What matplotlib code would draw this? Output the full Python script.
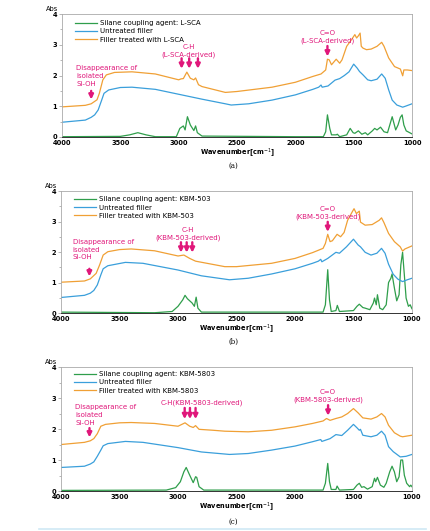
import numpy as np
import matplotlib
matplotlib.use('Agg')
import matplotlib.pyplot as plt

plt.rcParams['font.family'] = ['DejaVu Sans']

GREEN = '#2f9e4b'
BLUE = '#3a9fdb'
ORANGE = '#f0a035'
PINK = '#e0177a'

# ---- panel (a): L-SCA
a_green_wn = [4000, 3500, 3420, 3350, 3280, 3200, 3020, 2990, 2960, 2945, 2925, 2900, 2870, 2855, 2840, 2800,
              2000, 1760, 1740, 1725, 1705, 1690, 1650, 1640, 1620, 1560, 1530, 1505, 1490, 1460, 1430, 1400,
              1380, 1340, 1320, 1300, 1270, 1240, 1210, 1170, 1140, 1120, 1100, 1085, 1070, 1050, 1000]
a_green_abs = [0.01, 0.02, 0.07, 0.14, 0.07, 0.01, 0.01, 0.28, 0.36, 0.23, 0.66, 0.39, 0.21, 0.36, 0.14, 0.03,
               0.01, 0.01, 0.17, 0.72, 0.28, 0.07, 0.07, 0.09, 0.01, 0.07, 0.28, 0.14, 0.12, 0.20, 0.09, 0.14,
               0.07, 0.20, 0.28, 0.23, 0.32, 0.17, 0.14, 0.66, 0.23, 0.39, 0.64, 0.72, 0.39, 0.20, 0.10]
a_blue_wn = [4000, 3800, 3750, 3720, 3690, 3660, 3640, 3600, 3500, 3400, 3200, 3000, 2800, 2600, 2550, 2400,
             2200, 2000, 1850, 1800, 1780, 1770, 1720, 1660, 1620, 1580, 1540, 1500, 1470, 1450, 1420, 1380,
             1350, 1300, 1260, 1230, 1200, 1170, 1130, 1080, 1050, 1000]
a_blue_abs = [0.48, 0.55, 0.64, 0.72, 0.88, 1.20, 1.42, 1.53, 1.61, 1.62, 1.55, 1.39, 1.23, 1.08, 1.04, 1.08,
              1.20, 1.37, 1.55, 1.62, 1.69, 1.62, 1.66, 1.85, 1.90, 2.00, 2.12, 2.37, 2.24, 2.13, 2.02, 1.86,
              1.83, 1.88, 2.05, 1.91, 1.53, 1.20, 1.04, 0.97, 1.01, 1.08]
a_orange_wn = [4000, 3800, 3750, 3700, 3680, 3650, 3620, 3550, 3400, 3200, 3000, 2980, 2960, 2930, 2900, 2870,
               2855, 2830, 2800, 2600, 2500, 2200, 2000, 1850, 1780, 1740, 1725, 1710, 1690, 1650, 1620, 1600,
               1560, 1520, 1490, 1475, 1460, 1445, 1435, 1420, 1390, 1350, 1300, 1260, 1240, 1200, 1150, 1100,
               1080, 1070, 1040, 1000]
a_orange_abs = [0.98, 1.03, 1.08, 1.21, 1.42, 1.86, 2.02, 2.10, 2.12, 2.05, 1.86, 1.89, 1.90, 2.11, 1.91, 1.86,
                1.92, 1.70, 1.64, 1.45, 1.48, 1.62, 1.78, 1.97, 2.05, 2.18, 2.53, 2.51, 2.35, 2.53, 2.40, 2.51,
                2.95, 3.16, 3.33, 3.22, 3.29, 3.38, 2.95, 2.89, 2.84, 2.86, 2.95, 3.08, 2.95, 2.57, 2.29, 2.21,
                1.99, 2.18, 2.18, 2.16]

# ---- panel (b): KBM-503
b_green_wn = [4000, 3200, 3050, 3000, 2960, 2940, 2920, 2880, 2860, 2845, 2830, 2800, 1760, 1740, 1720, 1705,
              1690, 1650, 1638, 1620, 1500, 1470, 1450, 1420, 1400, 1360, 1330, 1320, 1305, 1295, 1275, 1250,
              1220, 1200, 1180, 1170, 1150, 1130, 1110, 1095, 1080, 1065, 1050, 1030, 1015, 1000]
b_green_abs = [0.03, 0.01, 0.05, 0.22, 0.43, 0.58, 0.47, 0.33, 0.22, 0.52, 0.16, 0.03, 0.03, 0.27, 1.42, 0.43,
               0.05, 0.08, 0.25, 0.05, 0.08, 0.22, 0.29, 0.18, 0.16, 0.11, 0.33, 0.49, 0.27, 0.60, 0.16, 0.11,
               0.27, 1.00, 1.14, 1.28, 0.82, 0.40, 0.60, 1.58, 1.99, 1.25, 0.49, 0.22, 0.27, 0.14]
b_blue_wn = [4000, 3800, 3750, 3720, 3690, 3660, 3640, 3600, 3450, 3300, 3000, 2800, 2560, 2400, 2200, 2000,
             1850, 1800, 1780, 1770, 1720, 1650, 1620, 1560, 1500, 1460, 1440, 1400, 1350, 1300, 1260, 1230,
             1200, 1160, 1120, 1080, 1040, 1000]
b_blue_abs = [0.51, 0.58, 0.65, 0.74, 0.92, 1.25, 1.45, 1.55, 1.66, 1.63, 1.41, 1.22, 1.09, 1.14, 1.28, 1.45,
              1.63, 1.70, 1.76, 1.68, 1.79, 1.99, 1.96, 2.17, 2.42, 2.23, 2.17, 1.99, 1.90, 1.96, 2.12, 1.96,
              1.60, 1.27, 1.11, 1.03, 1.09, 1.14]
b_orange_wn = [4000, 3800, 3750, 3700, 3670, 3640, 3600, 3500, 3400, 3200, 3000, 2950, 2900, 2850, 2600, 2500,
               2200, 2000, 1850, 1760, 1740, 1720, 1700, 1680, 1640, 1610, 1580, 1550, 1510, 1495, 1475, 1450,
               1440, 1400, 1340, 1280, 1260, 1240, 1200, 1150, 1100, 1080, 1060, 1000]
b_orange_abs = [1.01, 1.05, 1.12, 1.30, 1.58, 1.90, 2.01, 2.08, 2.10, 2.04, 1.87, 1.90, 1.79, 1.70, 1.52, 1.52,
                1.63, 1.79, 1.98, 2.12, 2.28, 2.58, 2.34, 2.37, 2.58, 2.50, 2.64, 3.04, 3.32, 3.42, 3.26, 3.34,
                2.98, 2.88, 2.90, 3.04, 3.12, 2.97, 2.61, 2.34, 2.17, 2.03, 2.10, 2.20]

# ---- panel (c): KBM-5803
c_green_wn = [4000, 3100, 3020, 2980, 2950, 2930, 2900, 2870, 2850, 2840, 2820, 2780, 1760, 1740, 1720, 1705,
              1690, 1650, 1640, 1620, 1500, 1470, 1450, 1430, 1410, 1380, 1340, 1320, 1310, 1295, 1270, 1240,
              1220, 1190, 1170, 1150, 1130, 1110, 1095, 1080, 1065, 1045, 1020, 1010, 1000]
c_green_abs = [0.02, 0.03, 0.11, 0.30, 0.62, 0.76, 0.51, 0.27, 0.46, 0.44, 0.14, 0.03, 0.03, 0.25, 0.89, 0.30,
               0.05, 0.05, 0.16, 0.03, 0.05, 0.19, 0.25, 0.12, 0.14, 0.06, 0.14, 0.41, 0.30, 0.44, 0.19, 0.12,
               0.25, 0.62, 0.80, 0.62, 0.30, 0.46, 1.00, 1.00, 0.51, 0.25, 0.14, 0.19, 0.14]
c_blue_wn = [4000, 3800, 3750, 3720, 3690, 3660, 3640, 3600, 3450, 3300, 3000, 2800, 2560, 2400, 2200, 2000,
             1850, 1780, 1770, 1700, 1650, 1600, 1550, 1500, 1470, 1450, 1440, 1420, 1350, 1300, 1260, 1230,
             1200, 1160, 1100, 1050, 1000]
c_blue_abs = [0.76, 0.80, 0.87, 0.94, 1.12, 1.32, 1.46, 1.53, 1.60, 1.57, 1.40, 1.26, 1.18, 1.21, 1.32, 1.45,
              1.59, 1.66, 1.60, 1.69, 1.82, 1.79, 1.96, 2.15, 2.04, 1.96, 1.99, 1.80, 1.75, 1.80, 1.93, 1.80,
              1.43, 1.27, 1.10, 1.12, 1.18]
c_orange_wn = [4000, 3800, 3750, 3720, 3690, 3660, 3620, 3500, 3400, 3200, 3000, 2940, 2900, 2870, 2850, 2820,
               2700, 2600, 2400, 2200, 2000, 1850, 1760, 1730, 1700, 1650, 1600, 1550, 1500, 1460, 1420, 1350,
               1300, 1260, 1230, 1200, 1150, 1100, 1080, 1000]
c_orange_abs = [1.50, 1.57, 1.62, 1.69, 1.85, 2.09, 2.15, 2.20, 2.21, 2.18, 2.09, 2.20, 2.09, 2.05, 2.11, 1.99,
                1.96, 1.93, 1.91, 1.96, 2.07, 2.18, 2.26, 2.34, 2.28, 2.34, 2.39, 2.50, 2.66, 2.52, 2.36, 2.32,
                2.39, 2.50, 2.39, 2.12, 1.88, 1.77, 1.75, 1.80]

agents = ['L-SCA', 'KBM-503', 'KBM-5803']
captions = ['(a)', '(b)', '(c)']

# annotation positions per panel (wavenumber, abs)
dis_text_pos = [(3880, 1.99), (3900, 2.08), (3880, 2.45)]
dis_arrow = [(3750, 1.50, 1.22), (3758, 1.45, 1.20), (3757, 2.03, 1.73)]
ch_text = ['C-H\n(L-SCA-derived)', 'C-H\n(KBM-503-derived)', 'C-H(KBM-5803-derived)']
ch_text_pos = [(2915, 2.56), (2915, 2.36), (2798, 2.74)]
ch_arrow_x = [[2975, 2910, 2835], [2975, 2926, 2878], [2943, 2898, 2850]]
ch_arrow_y = [(2.56, 2.22), (2.32, 1.98), (2.68, 2.32)]
co_text = ['C=O\n(L-SCA-derived)', 'C=O\n(KBM-503-derived)', 'C=O\n(KBM-5803-derived)']
co_text_pos = [(1725, 3.02), (1720, 3.04), (1717, 2.84)]
co_arrow = [(1725, 2.96, 2.62), (1720, 2.99, 2.66), (1717, 2.77, 2.43)]
legend_top = [0.948, 0.955, 0.965]

data = [
    (a_green_wn, a_green_abs, a_blue_wn, a_blue_abs, a_orange_wn, a_orange_abs),
    (b_green_wn, b_green_abs, b_blue_wn, b_blue_abs, b_orange_wn, b_orange_abs),
    (c_green_wn, c_green_abs, c_blue_wn, c_blue_abs, c_orange_wn, c_orange_abs),
]

fig = plt.figure(figsize=(4.30, 5.31), dpi=100)
# axes boxes in figure fractions: left, bottom, width, height
boxes = [(0.1442, 0.742, 0.814, 0.2316),
         (0.1420, 0.4105, 0.816, 0.2298),
         (0.1420, 0.0753, 0.816, 0.2335)]
caption_y = [0.687, 0.356, 0.017]

arrow_kw = dict(arrowstyle='-|>', color=PINK, lw=1.7, mutation_scale=6.5, shrinkA=0, shrinkB=0)
fs = 5.0
tfs = 4.8
lsp = 1.35

for i in range(3):
    ax = fig.add_axes(boxes[i])
    gw, ga, bw, ba, ow, oa = data[i]
    ax.plot(gw, ga, color=GREEN, lw=0.9, label='Silane coupling agent: ' + agents[i])
    ax.plot(bw, ba, color=BLUE, lw=0.9, label='Untreated filler')
    ax.plot(ow, oa, color=ORANGE, lw=0.9, label='Filler treated with ' + agents[i])
    ax.set_xlim(4000, 1000)
    ax.set_ylim(0, 4)
    ax.set_xticks([4000, 3500, 3000, 2500, 2000, 1500, 1000])
    ax.set_yticks([0, 1, 2, 3, 4])
    ax.set_yticks([0.5, 1.5, 2.5, 3.5], minor=True)
    ax.tick_params(axis='x', length=0, pad=2, labelsize=tfs)
    ax.tick_params(axis='y', which='major', length=2, width=0.5, color='#999999', pad=1.5, labelsize=tfs)
    ax.tick_params(axis='y', which='minor', length=1.5, width=0.5, color='#999999')
    for lab in ax.get_xticklabels() + ax.get_yticklabels():
        lab.set_fontweight('bold')
    for side in ['top', 'right', 'left']:
        ax.spines[side].set_color('#aaaaaa')
        ax.spines[side].set_linewidth(0.6)
    ax.spines['bottom'].set_color('#333333')
    ax.spines['bottom'].set_linewidth(0.7)
    ax.set_xlabel(r'Wavenumber[cm$^{-1}$]', fontsize=tfs, fontweight='bold', labelpad=0.5)
    ax.text(-0.045, 1.02, 'Abs', transform=ax.transAxes, fontsize=tfs, ha='left', va='bottom')

    ax.legend(loc='upper left', bbox_to_anchor=(0.037, legend_top[i]), frameon=False, fontsize=fs,
              handlelength=3.2, handletextpad=0.35, labelspacing=0.3, borderpad=0, borderaxespad=0)

    # annotations
    tx, ty = dis_text_pos[i]
    ax.text(tx, ty, 'Disappearance of\nisolated\nSi-OH', color=PINK, fontsize=fs, ha='left', va='center',
            linespacing=lsp)
    x0, y0, y1 = dis_arrow[i]
    ax.annotate('', xy=(x0, y1), xytext=(x0, y0), arrowprops=arrow_kw)

    tx, ty = ch_text_pos[i]
    ax.text(tx, ty, ch_text[i], color=PINK, fontsize=fs, ha='center', va='bottom', linespacing=lsp)
    y0, y1 = ch_arrow_y[i]
    for x0 in ch_arrow_x[i]:
        ax.annotate('', xy=(x0, y1), xytext=(x0, y0), arrowprops=arrow_kw)

    tx, ty = co_text_pos[i]
    ax.text(tx, ty, co_text[i], color=PINK, fontsize=fs, ha='center', va='bottom', linespacing=lsp)
    x0, y0, y1 = co_arrow[i]
    ax.annotate('', xy=(x0, y1), xytext=(x0, y0), arrowprops=arrow_kw)

    fig.text(0.543, caption_y[i], captions[i], fontsize=5, family='DejaVu Serif', ha='center', va='center')

# thin light-blue rule at the very bottom
fig.add_artist(plt.Line2D([0.09, 0.99], [0.004, 0.004], color='#cfe9f5', lw=1.2))

fig.savefig('out.png', dpi=100)
